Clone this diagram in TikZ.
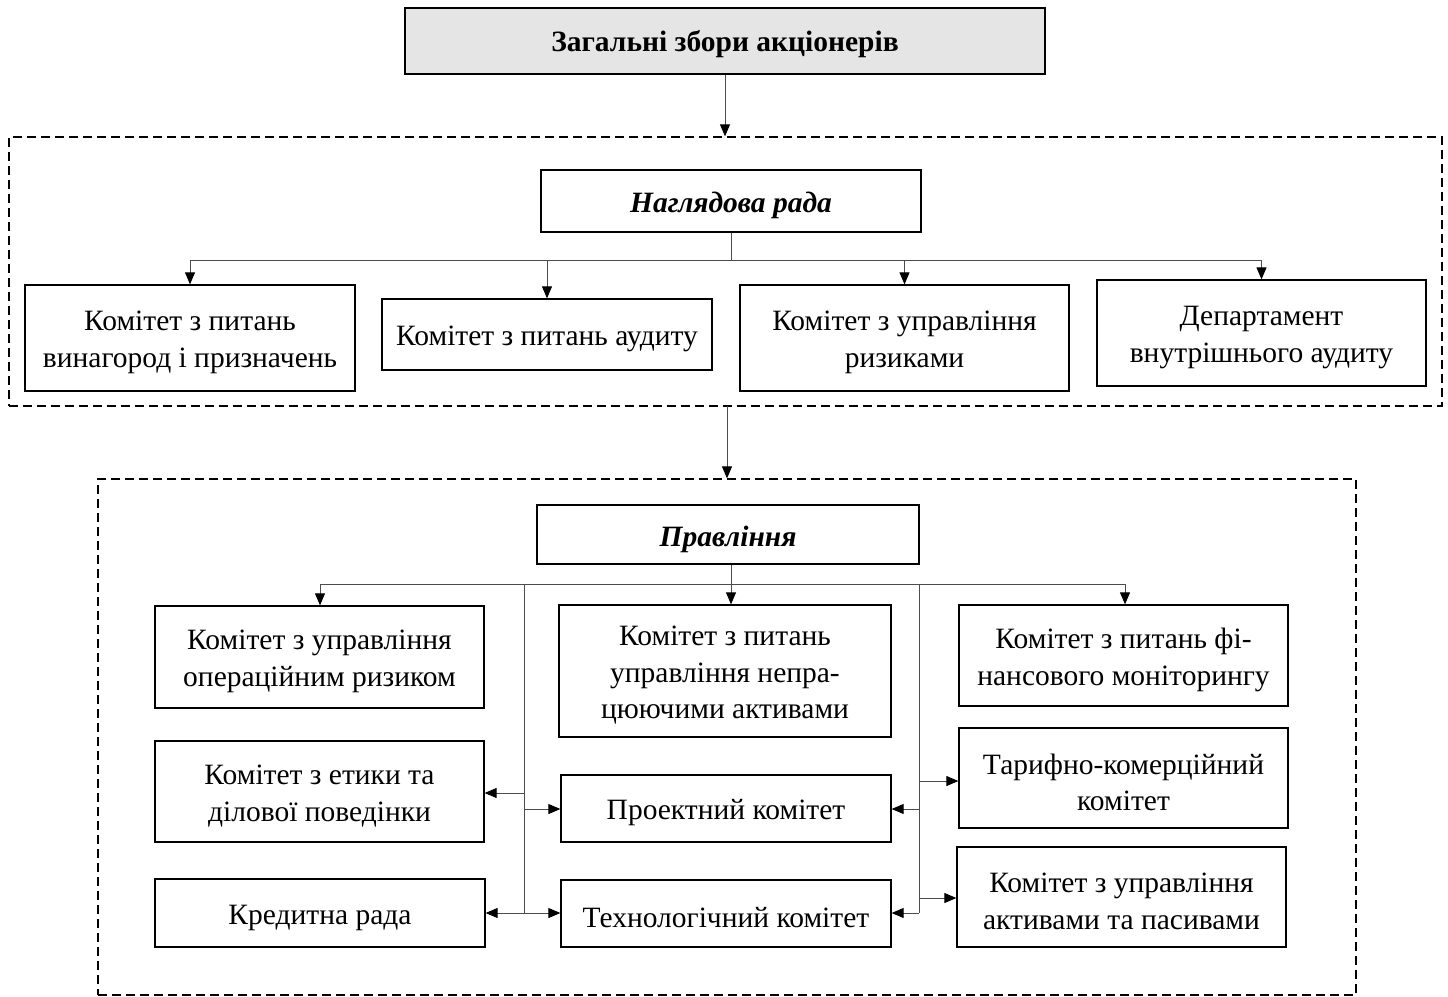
\documentclass[tikz,border=0pt]{standalone}
\usepackage{fontspec}
\setmainfont{Liberation Serif}
\usetikzlibrary{arrows.meta}
\newcommand\mybox[7][]{%
  \node[box,minimum width=#5pt,minimum height=#6pt,#1] (#2) at (#3,#4) {};
  \node[txt,#1,draw=none,fill=none] (#2t) at ([yshift=-4.5pt]#2.center) {#7};}
\begin{document}
\begin{tikzpicture}[x=1pt,y=-1pt,
  box/.style={draw=black,line width=1.3pt,rectangle,inner sep=0pt},
  txt/.style={inner sep=0pt,align=center,font=\fontsize{29.5}{36.5}\selectfont},
  bold/.style={font=\fontsize{29.5}{36.5}\selectfont\bfseries},
  bolditalic/.style={font=\fontsize{29.5}{36.5}\selectfont\bfseries\itshape},
  conn/.style={draw=black!70,line width=0.9pt},
  arr/.style={conn,-{Triangle[length=12pt,width=10pt,color=black]}},
  grp/.style={draw=black,line width=1.3pt,dash pattern=on 9pt off 5pt,rectangle,inner sep=0pt}]
\useasboundingbox (0,0) rectangle (1448,996);

% top
\node[box,fill=black!10,minimum width=640pt,minimum height=66pt] (top) at (725,41) {};
\node[txt,bold] (topt) at ([yshift=-3pt]top.center) {Загальні збори акціонерів};

% group 1
\node[grp,minimum width=1433pt,minimum height=269pt] (g1) at (725.5,271.5) {};
\mybox[bolditalic]{nr}{731}{201}{380}{62}{Наглядова рада}
\mybox{b1}{190}{338}{330}{106}{Комітет з питань\\винагород і призначень}
\mybox{b2}{547}{334.5}{330}{71}{Комітет з питань аудиту}
\mybox{b3}{904.5}{338}{329}{106}{Комітет з управління\\ризиками}
\mybox{b4}{1261.5}{333}{329}{106}{Департамент\\внутрішнього аудиту}

\draw[arr] (top.south) -- (top.south |- g1.north);
\coordinate (bus1) at (731,260);
\draw[conn] (nr.south) -- (bus1);
\draw[conn] (b1.north |- bus1) -- (b4.north |- bus1);
\foreach \n in {b1,b2,b3,b4} \draw[arr] (\n.north |- bus1) -- (\n.north);

% group 2
\node[grp,minimum width=1258pt,minimum height=516pt] (g2) at (727,737) {};
\coordinate (g1out) at (727,406);
\draw[arr] (g1out) -- (g1out |- g2.north);
\mybox[bolditalic]{pr}{728}{534.5}{382}{59}{Правління}

\mybox{L1}{319.5}{657}{329}{102}{Комітет з управління\\операційним ризиком}
\mybox{L2}{319.5}{791.5}{329}{101}{Комітет з етики та\\ділової поведінки}
\mybox{L3}{320}{913}{330}{68}{Кредитна рада}
\mybox{M1}{725}{671}{332}{132}{Комітет з питань\\управління непра-\\цюючими активами}
\mybox{M2}{726}{808.5}{330}{67}{Проектний комітет}
\mybox{M3}{726}{913.5}{330}{67}{Технологічний комітет}
\mybox{R1}{1123.5}{655.5}{329}{101}{Комітет з питань фі-\\нансового моніторингу}
\mybox{R2}{1123.5}{778}{329}{100}{Тарифно-комерційний\\комітет}
\mybox{R3}{1121.5}{897}{329}{100}{Комітет з управління\\активами та пасивами}

\coordinate (bus2) at (731,584);
\coordinate (bl) at (320,584);
\coordinate (br) at (1125,584);
\draw[conn] (bus2 |- pr.south) -- (bus2);
\draw[conn] (bl) -- (br);
\draw[arr] (bl) -- (bl |- L1.north);
\draw[arr] (bus2) -- (bus2 |- M1.north);
\draw[arr] (br) -- (br |- R1.north);

% left vertical bus
\coordinate (lt) at (524,584);
\coordinate (lb) at (524,913);
\coordinate (la) at (524,793);
\coordinate (lc) at (524,809);
\draw[conn] (lt) -- (lb);
\draw[arr] (la) -- (la -| L2.east);
\draw[arr] (lc) -- (lc -| M2.west);
\draw[arr] (lb) -- (lb -| L3.east);
\draw[arr] (lb) -- (lb -| M3.west);

% right vertical bus
\coordinate (rt) at (919,584);
\coordinate (rb) at (919,913);
\coordinate (ra) at (919,781);
\coordinate (rc) at (919,809);
\coordinate (rd) at (919,898);
\draw[conn] (rt) -- (rb);
\draw[arr] (ra) -- (ra -| R2.west);
\draw[arr] (rc) -- (rc -| M2.east);
\draw[arr] (rd) -- (rd -| R3.west);
\draw[arr] (rb) -- (rb -| M3.east);
\end{tikzpicture}
\end{document}
